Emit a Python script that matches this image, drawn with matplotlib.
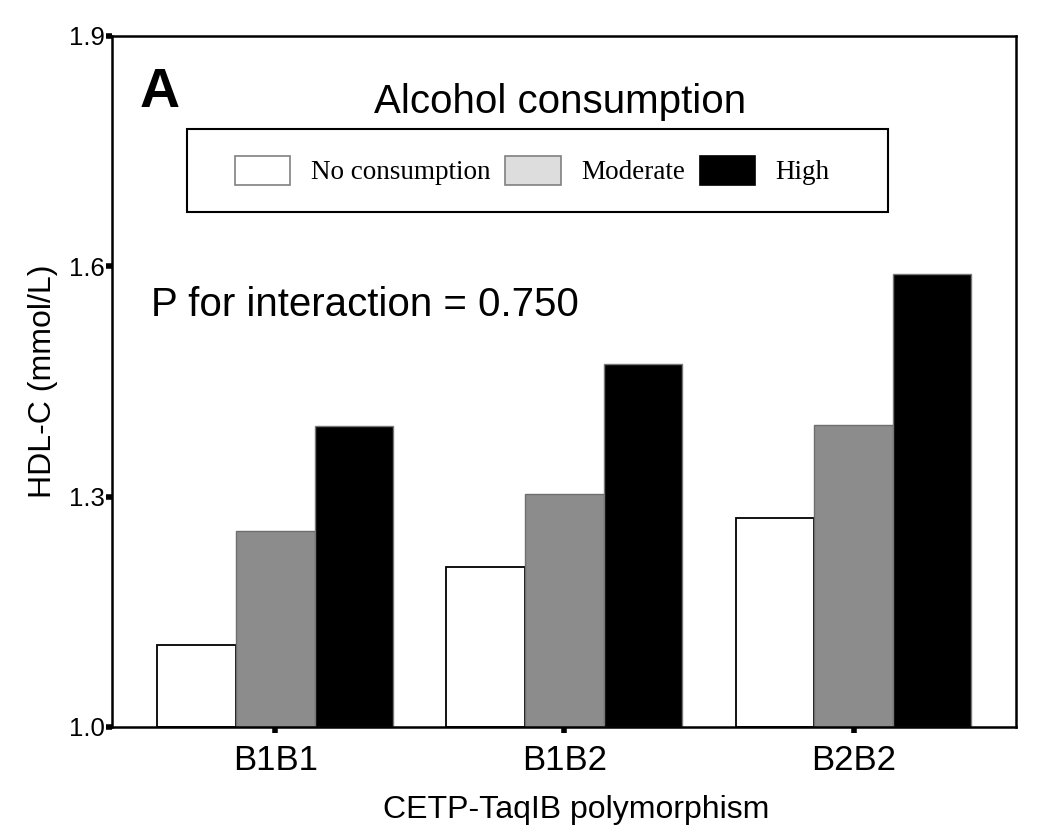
import numpy as np
import matplotlib
matplotlib.use('Agg')
import matplotlib.pyplot as plt
from matplotlib.patches import Patch, Rectangle

# values (HDL-C, mmol/L)
genotypes = ['B1B1', 'B1B2', 'B2B2']
groups = ['No consumption', 'Moderate', 'High']
no_consumption = [1.107, 1.208, 1.272]
moderate = [1.255, 1.303, 1.393]
high = [1.392, 1.473, 1.590]
y_ticks = [1.0, 1.3, 1.6, 1.9]

plt.rcParams['font.family'] = ['Liberation Sans', 'DejaVu Sans']

fig = plt.figure(figsize=(10.5, 8.36), dpi=100)
ax = fig.add_axes([0.1067, 0.1304, 0.8609, 0.8266])

x = np.arange(len(genotypes))
w = 0.272
ax.bar(x - w, np.array(no_consumption) - 1.0, w, bottom=1.0,
       color='white', edgecolor='black', linewidth=1.3)
ax.bar(x, np.array(moderate) - 1.0, w, bottom=1.0,
       color='#8c8c8c', edgecolor='#6e6e6e', linewidth=1.0)
ax.bar(x + w, np.array(high) - 1.0, w, bottom=1.0,
       color='black', edgecolor='#777777', linewidth=1.0)

ax.set_xlim(-0.565, 2.562)
ax.set_ylim(1.0, 1.9)
ax.set_yticks(y_ticks)
ax.set_yticklabels(['%.1f' % v for v in y_ticks], fontsize=18.5)
ax.set_xticks(x)
ax.set_xticklabels(genotypes, fontsize=25)
ax.tick_params(axis='y', direction='out', length=4, width=4, pad=1)
ax.tick_params(axis='x', direction='out', length=4, width=4, pad=8)
for s in ax.spines.values():
    s.set_linewidth(1.8)

ax.set_xlabel('CETP-TaqIB polymorphism', fontsize=23, labelpad=8)
ax.xaxis.set_label_coords(0.514, -0.098)
ax.set_ylabel('HDL-C (mmol/L)', fontsize=23, labelpad=8)

ax.text(0.031, 0.955, 'A', transform=ax.transAxes, fontsize=40,
        fontweight='bold', va='top', ha='left')
ax.text(0.496, 0.905, 'Alcohol consumption', transform=ax.transAxes,
        fontsize=29, ha='center', va='center')
ax.text(0.043, 0.61, 'P for interaction = 0.750', transform=ax.transAxes,
        fontsize=29, ha='left', va='center')

# legend box
ax.add_patch(Rectangle((0.083, 0.745), 0.775, 0.12, transform=ax.transAxes,
                       fill=False, edgecolor='black', linewidth=1.5))
handles = [Patch(facecolor='white', edgecolor='#808080', linewidth=1.2),
           Patch(facecolor='#dddddd', edgecolor='#808080', linewidth=1.2),
           Patch(facecolor='black', edgecolor='black', linewidth=1.2)]
ax.legend(handles, groups, loc='center', bbox_to_anchor=(0.465, 0.805),
          ncol=3, frameon=False, handlelength=2.05, handleheight=1.25,
          handletextpad=0.75, columnspacing=0.55,
          prop={'family': ['Liberation Serif', 'DejaVu Serif'], 'size': 19.5})

fig.savefig('out.png', dpi=100)
